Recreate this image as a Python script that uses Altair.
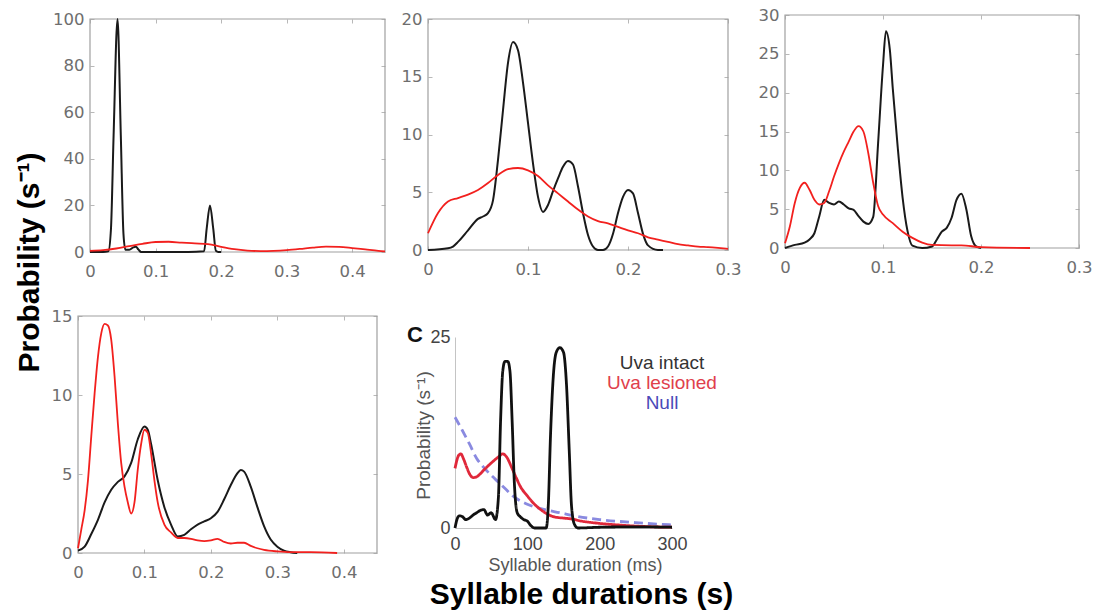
import altair as alt
import pandas as pd

W, H = 1095, 615

# ---------------- data ----------------
# Panel 1 (top-left): duration (s) vs probability (s^-1)
p1_black_t = [0, 0.02, 0.028, 0.032, 0.036, 0.042, 0.047, 0.051, 0.054, 0.06, 0.066, 0.07, 0.074, 0.078,
              0.1, 0.15, 0.174, 0.178, 0.183, 0.188, 0.192, 0.196, 0.2]
p1_black_p = [0, 0, 0.3, 10, 50, 100, 50, 8, 1, 1.0, 2.0, 2.3, 1.0, 0,
              0, 0, 0.3, 10, 20, 10, 0.5, 0, 0]
p1_red_t = [0, 0.02, 0.04, 0.06, 0.08, 0.1, 0.12, 0.14, 0.16, 0.18, 0.2, 0.22, 0.24, 0.26, 0.28, 0.3,
            0.32, 0.34, 0.36, 0.38, 0.4, 0.42, 0.44, 0.45]
p1_red_p = [0.5, 0.8, 1.5, 2.5, 3.5, 4.3, 4.4, 4.0, 3.7, 3.4, 2.2, 1.2, 0.6, 0.4, 0.5, 0.8,
            1.3, 1.9, 2.3, 2.2, 1.7, 1.1, 0.5, 0.3]

# Panel 2 (top-middle)
p2_black_t = [0, 0.02, 0.025, 0.03, 0.04, 0.05, 0.055, 0.06, 0.065, 0.07, 0.075, 0.08, 0.085, 0.09, 0.095,
              0.1, 0.105, 0.11, 0.115, 0.12, 0.125, 0.13, 0.135, 0.14, 0.145, 0.15, 0.155, 0.16, 0.165,
              0.17, 0.175, 0.18, 0.185, 0.19, 0.195, 0.2, 0.205, 0.21, 0.215, 0.22, 0.23, 0.235]
p2_black_p = [0, 0.15, 0.3, 0.7, 1.7, 2.7, 2.9, 3.2, 4.3, 7.8, 12.1, 16.2, 18, 17.3, 14.5,
              11, 7.5, 4.6, 3.3, 3.9, 5.1, 6.2, 7.2, 7.7, 7.4, 5.5, 3.2, 1.3, 0.3,
              0, 0, 0.3, 1.4, 3.2, 4.6, 5.2, 4.9, 3.2, 1.4, 0.4, 0, 0]
p2_red_t = [0, 0.01, 0.02, 0.03, 0.04, 0.05, 0.06, 0.07, 0.08, 0.09, 0.1, 0.11, 0.12, 0.13, 0.14, 0.15,
            0.16, 0.17, 0.18, 0.19, 0.2, 0.21, 0.22, 0.23, 0.24, 0.25, 0.26, 0.27, 0.28, 0.29, 0.3]
p2_red_p = [1.45, 3.2, 4.2, 4.5, 4.8, 5.2, 5.8, 6.5, 7.0, 7.1, 6.9, 6.4, 5.6, 4.9, 4.2, 3.5,
            2.9, 2.5, 2.3, 2.0, 1.7, 1.45, 1.1, 0.9, 0.7, 0.5, 0.4, 0.3, 0.25, 0.18, 0.1]

# Panel 3 (top-right)
p3_black_t = [0, 0.01, 0.02, 0.025, 0.03, 0.035, 0.04, 0.045, 0.05, 0.055, 0.06, 0.065, 0.07, 0.075,
              0.08, 0.085, 0.09, 0.095, 0.1, 0.103, 0.107, 0.11, 0.115, 0.12, 0.125, 0.13, 0.14, 0.15,
              0.155, 0.16, 0.165, 0.17, 0.175, 0.18, 0.185, 0.19, 0.195, 0.2]
p3_black_p = [0, 0.4, 0.7, 1.1, 1.9, 4.1, 6.2, 5.8, 5.6, 6.0, 5.6, 5.1, 4.9, 4.1,
              3.4, 3.1, 4.0, 13.5, 23.5, 27.9, 25.5, 20.5, 13, 6.5, 2.2, 0.3, 0, 0.2,
              1.1, 2.1, 2.6, 3.9, 6.2, 7.0, 5.0, 1.5, 0.2, 0]
p3_red_t = [0, 0.005, 0.01, 0.015, 0.02, 0.025, 0.03, 0.035, 0.04, 0.045, 0.05, 0.055, 0.06, 0.065,
            0.07, 0.075, 0.08, 0.085, 0.09, 0.095, 0.1, 0.11, 0.12, 0.13, 0.14, 0.15, 0.17, 0.18,
            0.2, 0.25]
p3_red_p = [0.6, 2.8, 5.8, 7.7, 8.4, 7.5, 6.2, 5.6, 5.8, 7.3, 9.2, 10.9, 12.4, 13.7,
            15, 15.7, 15, 12.2, 8.4, 5.4, 4.3, 3.2, 2.1, 1.3, 0.7, 0.4, 0.35, 0.35,
            0.1, 0]

# Panel 4 (bottom-left)
p4_black_t = [0, 0.01, 0.02, 0.03, 0.04, 0.05, 0.06, 0.07, 0.08, 0.09, 0.1, 0.105, 0.11, 0.12, 0.13,
              0.14, 0.15, 0.16, 0.17, 0.18, 0.19, 0.2, 0.21, 0.22, 0.23, 0.24, 0.245, 0.25, 0.26,
              0.27, 0.28, 0.29, 0.3, 0.31, 0.32, 0.33]
p4_black_p = [0.15, 0.4, 1.2, 2.1, 3.2, 4.0, 4.5, 4.85, 5.7, 7.2, 8.0, 7.8, 6.9, 4.6, 2.9,
              1.8, 1.05, 1.15, 1.5, 1.8, 2.0, 2.2, 2.6, 3.4, 4.3, 5.05, 5.25, 5.15, 4.2,
              2.9, 1.7, 0.85, 0.4, 0.15, 0.05, 0]
p4_red_t = [0, 0.005, 0.01, 0.015, 0.02, 0.025, 0.03, 0.035, 0.04, 0.045, 0.05, 0.055, 0.06, 0.065,
            0.07, 0.075, 0.08, 0.085, 0.09, 0.095, 0.1, 0.105, 0.11, 0.115, 0.12, 0.13, 0.14, 0.15,
            0.16, 0.17, 0.18, 0.19, 0.2, 0.21, 0.22, 0.23, 0.24, 0.25, 0.26, 0.27, 0.28, 0.3, 0.32,
            0.35, 0.39]
p4_red_p = [0.3, 1.5, 2.7, 4.6, 7.4, 10.1, 12.4, 13.9, 14.5, 14.4, 13.5, 11.2, 8.2, 5.7,
            4.2, 3.2, 2.5, 3.2, 5.3, 6.9, 7.8, 7.6, 6.3, 4.6, 3.2, 1.8, 1.3, 0.95,
            0.95, 0.9, 0.8, 0.75, 0.8, 0.9, 0.7, 0.6, 0.65, 0.65, 0.45, 0.3, 0.2, 0.1, 0.05,
            0.05, 0]

# Panel C (bottom-middle): duration (ms)
c_panel_label = "C"
c_series = ["Uva intact", "Uva lesioned", "Null"]
c_colors = ["#111111", "#e0283a", "#8a8ae0"]
c_label_colors = ["#333333", "#e0404c", "#4a4ab8"]
c_intact_t = [0, 3, 6, 10, 15, 20, 25, 30, 35, 40, 45, 50, 56, 60, 63, 66, 69, 73, 76, 79, 82, 86, 90,
              95, 100, 105, 110, 120, 126, 129, 132, 136, 140, 145, 150, 154, 158, 161, 165, 170,
              200, 250, 300]
c_intact_p = [0, 1.2, 1.6, 1.5, 1.1, 1.3, 1.7, 2.0, 2.3, 2.4, 1.7, 2.0, 1.1, 4, 14, 20.5, 21.8, 21.8,
              20.5, 14, 6, 2, 1.5, 1.1, 0.9, 0.3, 0, 0, 0, 3, 12, 20, 23, 23.6, 23, 19, 10, 3, 0.5, 0,
              0.1, 0.15, 0.1]
c_lesioned_t = [0, 5, 8, 12, 16, 20, 25, 30, 35, 40, 50, 60, 66, 72, 78, 85, 90, 100, 110, 120, 130,
                140, 150, 160, 175, 200, 225, 250, 275, 300]
c_lesioned_p = [7.8, 9.5, 9.7, 9.0, 8.0, 7.1, 6.6, 6.7, 7.1, 7.6, 8.5, 9.3, 9.7, 9.2, 8.0, 6.5, 5.5,
                4.2, 3.1, 2.3, 1.7, 1.4, 1.3, 1.2, 0.9, 0.6, 0.4, 0.25, 0.15, 0.1]
c_null_t = [0, 10, 20, 30, 40, 50, 60, 70, 80, 100, 120, 145, 170, 200, 250, 300]
c_null_p = [14.5, 12.8, 11.0, 9.1, 7.9, 6.9, 6.0, 5.1, 4.2, 3.1, 2.5, 2.0, 1.5, 1.1, 0.7, 0.4]

# ---------------- styling ----------------
BLACK = "#1a1a1a"
RED = "#f2201e"
FRAME = "#a0a0a0"
TICK = "#b8b8b8"
LABEL = "#6e6e6e"
TICK_FONT = "DejaVu Sans"


def inward_axis(orient, offset, values):
    return alt.Axis(orient=orient, offset=offset, values=values, labels=False, domain=False,
                    grid=False, ticks=True, tickSize=4, tickColor=TICK, tickWidth=1, title=None)


def panel(bt, bp, rt, rp, xdom, ydom, xr, yr, xticks, yticks, ytitle=None, xtitle=None):
    xs = alt.Scale(domain=xdom, range=xr, nice=False, zero=False)
    ys = alt.Scale(domain=ydom, range=yr, nice=False, zero=False)
    frame_df = pd.DataFrame({"x0": [xdom[0]], "x1": [xdom[1]], "y0": [ydom[0]], "y1": [ydom[1]]})
    frame = alt.Chart(frame_df).mark_rect(fillOpacity=0, stroke=FRAME, strokeWidth=1.2).encode(
        x=alt.X("x0:Q", scale=xs, axis=inward_axis("top", -yr[0], xticks)),
        x2="x1:Q",
        y=alt.Y("y0:Q", scale=ys, axis=inward_axis("right", xr[0] - W, yticks)),
        y2="y1:Q",
    )
    xaxis_kw = dict(orient="bottom", offset=yr[0] - H, values=xticks, format="~f",
                    labelFont=TICK_FONT, labelFontSize=16.5, labelColor=LABEL, labelPadding=11,
                    labelFlush=False, labelOverlap=False, ticks=False, domain=False, grid=False,
                    title=None)
    if xtitle:
        xaxis_kw.update(title=xtitle, titleX=581, titleY=50, titleBaseline="alphabetic",
                        titleAlign="center", titleAngle=0, titleFont="Liberation Sans",
                        titleFontSize=30, titleFontWeight="bold", titleColor="#000000")
    yaxis_kw = dict(orient="left", offset=-xr[0], values=yticks, format="~f",
                    labelFont=TICK_FONT, labelFontSize=16.5, labelColor=LABEL, labelPadding=6,
                    labelFlush=False, labelOverlap=False, ticks=False, domain=False, grid=False,
                    title=None)
    if ytitle:
        yaxis_kw.update(title=ytitle, titleX=-52, titleY=262, titleBaseline="alphabetic",
                        titleAlign="center", titleAngle=270, titleFont="Liberation Sans",
                        titleFontSize=30, titleFontWeight="bold", titleColor="#000000")
    black = alt.Chart(pd.DataFrame({"t": bt, "p": bp})).mark_line(
        color=BLACK, strokeWidth=2, interpolate="monotone").encode(
        x=alt.X("t:Q", scale=xs, axis=alt.Axis(**xaxis_kw)),
        y=alt.Y("p:Q", scale=ys, axis=alt.Axis(**yaxis_kw)),
    )
    red = alt.Chart(pd.DataFrame({"t": rt, "p": rp})).mark_line(
        color=RED, strokeWidth=1.8, interpolate="monotone").encode(
        x=alt.X("t:Q", scale=xs, axis=inward_axis("bottom", yr[1] - H, xticks)),
        y=alt.Y("p:Q", scale=ys, axis=inward_axis("left", -xr[1], yticks)),
    )
    return [frame, black, red]


layers = []
layers += panel(p1_black_t, p1_black_p, p1_red_t, p1_red_p, [0, 0.45], [0, 100], [90, 385], [252, 19],
                [0, 0.1, 0.2, 0.3, 0.4], [0, 20, 40, 60, 80, 100], ytitle="Probability (s⁻¹)")
layers += panel(p2_black_t, p2_black_p, p2_red_t, p2_red_p, [0, 0.3], [0, 20], [428, 728], [250, 19],
                [0, 0.1, 0.2, 0.3], [0, 5, 10, 15, 20])
layers += panel(p3_black_t, p3_black_p, p3_red_t, p3_red_p, [0, 0.3], [0, 30], [785, 1079], [248, 15],
                [0, 0.1, 0.2, 0.3], [0, 5, 10, 15, 20, 25, 30])
layers += panel(p4_black_t, p4_black_p, p4_red_t, p4_red_p, [0, 0.45], [0, 15], [78, 377], [553, 316],
                [0, 0.1, 0.2, 0.3, 0.4], [0, 5, 10, 15], xtitle="Syllable durations (s)")

# Panel C
c_df = pd.concat([
    pd.DataFrame({"series": "Null", "t": c_null_t, "p": c_null_p}),
    pd.DataFrame({"series": "Uva lesioned", "t": c_lesioned_t, "p": c_lesioned_p}),
    pd.DataFrame({"series": "Uva intact", "t": c_intact_t, "p": c_intact_p}),
], ignore_index=True)

label_color_expr = ("datum.label == '{0}' ? '{3}' : datum.label == '{1}' ? '{4}' : '{5}'"
                    .format(c_series[0], c_series[1], c_series[2], *c_label_colors))

c_chart = alt.Chart(c_df).mark_line(strokeWidth=2.8, interpolate="monotone").encode(
    x=alt.X("t:Q", scale=alt.Scale(domain=[0, 300], range=[455, 672], nice=False, zero=False),
            axis=alt.Axis(orient="bottom", offset=528 - H, values=[0, 100, 200, 300],
                          labelFont="Liberation Sans", labelFontSize=18, labelColor="#444444",
                          labelPadding=7, labelFlush=False, labelOverlap=False, ticks=False,
                          domain=True, domainColor="#c4c4c4", domainWidth=1, grid=False,
                          title="Syllable duration (ms)", titleX=575, titleY=42,
                          titleBaseline="alphabetic", titleAlign="center", titleAngle=0,
                          titleFont="Liberation Sans", titleFontSize=18, titleFontWeight="normal",
                          titleColor="#555555")),
    y=alt.Y("p:Q", scale=alt.Scale(domain=[0, 25], range=[528, 337], nice=False, zero=False),
            axis=alt.Axis(orient="left", offset=-455, values=[0, 25],
                          labelFont="Liberation Sans", labelFontSize=18, labelColor="#444444",
                          labelPadding=5, labelFlush=False, labelOverlap=False, ticks=False,
                          domain=True, domainColor="#c4c4c4", domainWidth=1, grid=False,
                          title="Probability (s⁻¹)", titleX=-26, titleY=435,
                          titleBaseline="alphabetic", titleAlign="center", titleAngle=270,
                          titleFont="Liberation Sans", titleFontSize=19, titleFontWeight="normal",
                          titleColor="#555555")),
    color=alt.Color("series:N", scale=alt.Scale(domain=c_series, range=c_colors),
                    legend=alt.Legend(orient="none", legendX=643, legendY=353, title=None,
                                      symbolOpacity=0, symbolSize=0, symbolStrokeWidth=0,
                                      labelOffset=0, labelAlign="center", padding=0,
                                      labelFont="Liberation Sans", labelFontSize=19,
                                      rowPadding=-1, labelColor={"expr": label_color_expr})),
    strokeDash=alt.StrokeDash("series:N", scale=alt.Scale(domain=c_series,
                                                          range=[[1, 0], [1, 0], [9, 5]]),
                              legend=None),
)
layers.append(c_chart)

chart = alt.layer(*layers).resolve_scale(
    x="independent", y="independent"
).properties(
    width=W, height=H, padding=0,
    autosize=alt.AutoSizeParams(type="none"),
    background="white",
    title=alt.TitleParams(text=c_panel_label, orient="top", anchor="start", frame="group",
                          offset=0, dx=407, dy=364, baseline="alphabetic",
                          font="Liberation Sans", fontSize=22, fontWeight="bold", color="#111111"),
).configure_view(stroke=None)

chart.save("out.html", embed_options={"renderer": "svg", "actions": False})
